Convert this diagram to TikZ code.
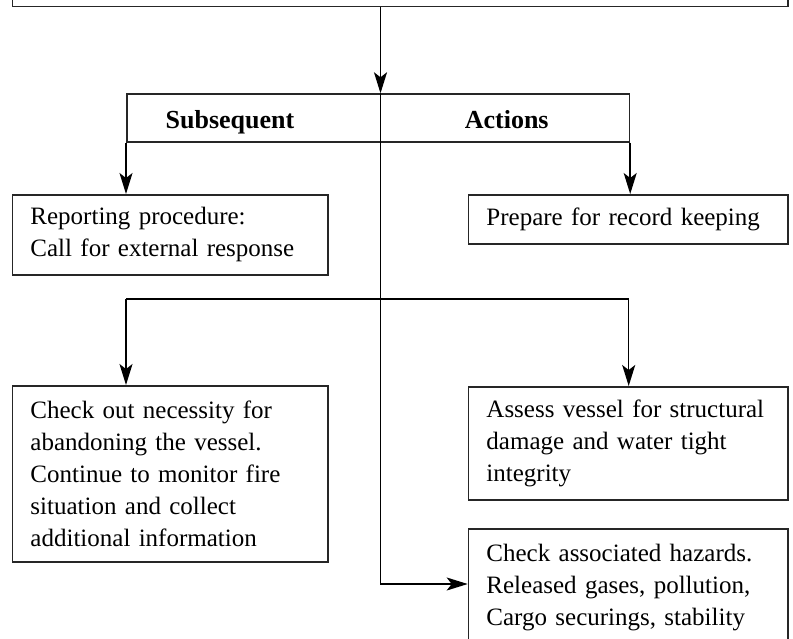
\documentclass[tikz,border=0pt]{standalone}
\usepackage{fontspec}
\setmainfont{Liberation Serif}
\usetikzlibrary{arrows.meta}
\hyphenpenalty=10000
\exhyphenpenalty=10000
\begin{document}
\begin{tikzpicture}[x=1pt,y=-1pt,
  box/.style={draw=black!85, line width=1.5pt, inner xsep=18pt, inner ysep=0pt,
    align=left, font=\fontsize{25}{32}\selectfont, anchor=north west},
  conn/.style={line width=1.5pt, draw=black},
  arr/.style={conn, -{Stealth[length=21pt,width=13pt,inset=5pt]}},
  lbl/.style={font=\fontsize{26}{32}\selectfont\bfseries, anchor=base, inner sep=0pt}]
\useasboundingbox (0,0) rectangle (793,638);
\clip (0,0) rectangle (793,638);

% boxes
\node[box, minimum width=775.3pt, minimum height=60pt, text width=700pt] (top) at (11.7,-54.3) {};
\node[draw=black!85, line width=1.5pt, inner sep=0pt, minimum width=502.7pt, minimum height=47.7pt, anchor=north west] (sa) at (126,93.3) {};
\node[lbl] (subs) at (230,128) {Subsequent};
\node[lbl] (act) at (506.7,128) {Actions};

\node[box, minimum width=315.3pt, minimum height=80pt, text width=279.3pt] (report) at (11.7,194)
  {Reporting procedure:\\Call for external response};
\node[box, minimum width=319.3pt, minimum height=49pt, text width=283.3pt] (prepare) at (467.7,194)
  {Prepare for record keeping};
\node[box, minimum width=315.3pt, minimum height=176pt, text width=279.3pt] (check) at (11.7,385)
  {Check out necessity for\\abandoning the vessel.\\Continue to monitor fire\\situation and collect\\additional information};
\node[box, minimum width=319.3pt, minimum height=113.3pt, text width=283.3pt] (assess) at (467.7,386)
  {Assess vessel for structural\\damage and water tight\\integrity};
\node[box, inner ysep=15pt, text width=283.3pt] (hazards) at (467.7,528)
  {\parbox[c][130pt][t]{283.3pt}{%
    \makebox[\linewidth][s]{Check associated hazards.}\par
    \makebox[\linewidth][s]{Released gases, pollution,}\par
    Cargo securings, stability}};

% coordinates
\coordinate (mid) at (380.5,0);
\coordinate (hy) at (0,584);
\coordinate (s2l) at (126,299);
\coordinate (s2r) at (628.7,299);

% connectors
\draw[arr] (top.south -| mid) -- (sa.north -| mid);
\draw[arr] (sa.north -| mid) |- (hazards.west |- hy);
\draw[arr] (sa.south west) -- (report.north -| sa.south west);
\draw[arr] (sa.south east) -- (prepare.north -| sa.south east);
\draw[conn] (s2l) -- (s2r);
\draw[arr] (s2l) -- (check.north -| s2l);
\draw[arr] (s2r) -- (assess.north -| s2r);
\end{tikzpicture}
\end{document}
